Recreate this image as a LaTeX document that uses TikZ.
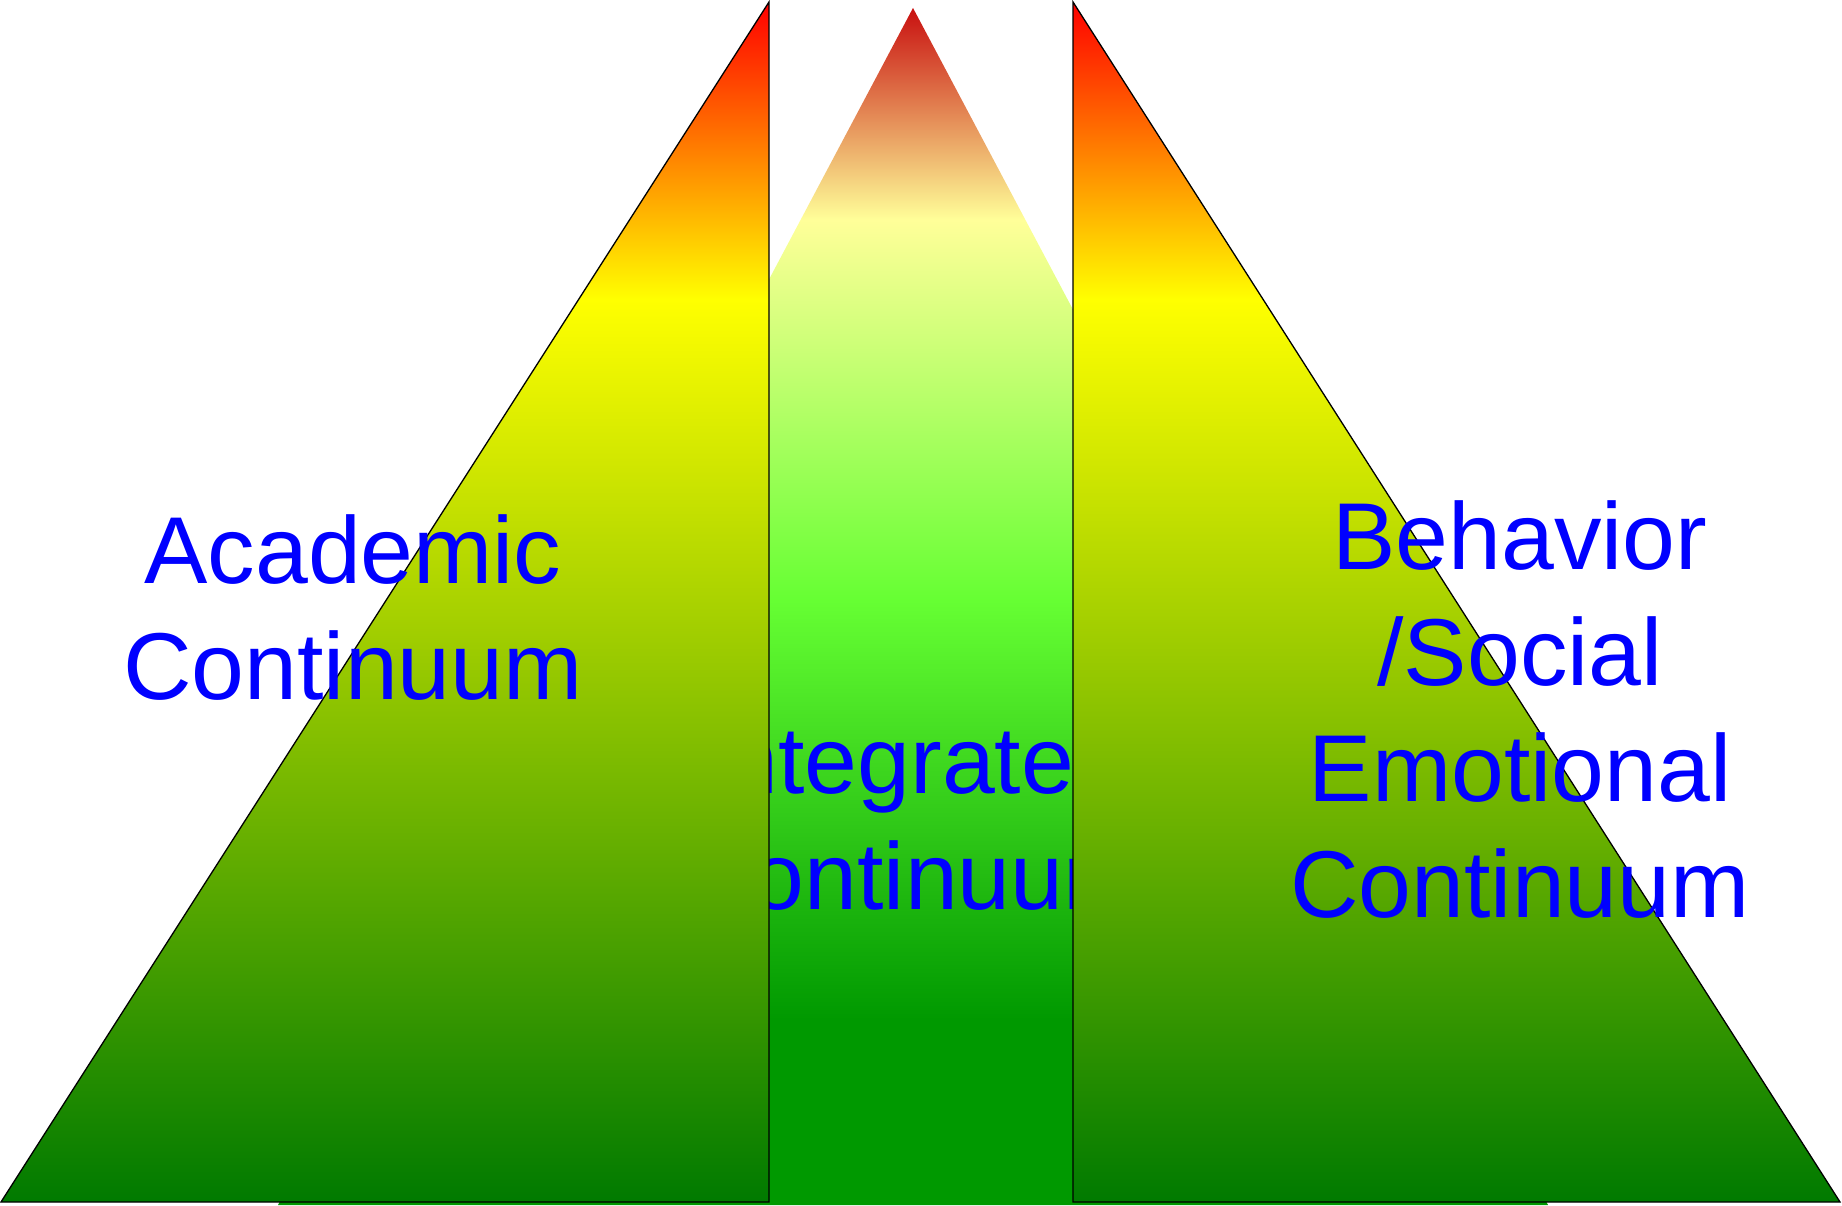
\documentclass[tikz,border=0pt]{standalone}
\usepackage{fontspec}
\setmainfont{Liberation Sans}
\definecolor{sidered}{RGB}{255,0,0}
\definecolor{sideyellow}{RGB}{255,255,0}
\definecolor{sidegreen}{RGB}{0,122,0}
\definecolor{middarkred}{RGB}{200,16,16}
\definecolor{midpale}{RGB}{255,255,153}
\definecolor{midbright}{RGB}{102,255,51}
\definecolor{midgreen}{RGB}{0,153,0}
\definecolor{lblblue}{RGB}{0,0,255}
\pgfdeclareverticalshading{sideshade}{100bp}{color(0bp)=(sidegreen); color(25bp)=(sidegreen); color(62.6bp)=(sideyellow); color(75bp)=(sidered); color(100bp)=(sidered)}
\pgfdeclareverticalshading{midshade}{100bp}{color(0bp)=(midgreen); color(25bp)=(midgreen); color(32.74bp)=(midgreen); color(50.26bp)=(midbright); color(66.14bp)=(midpale); color(75bp)=(middarkred); color(100bp)=(middarkred)}
\tikzset{
  sidetri/.style={shading=sideshade, draw=black, line width=1.3pt, line join=miter},
  midtri/.style={shading=midshade},
  lbl/.style={text=lblblue, align=center, inner sep=0pt, font=\fontsize{95}{116}\selectfont}
}
\begin{document}
\begin{tikzpicture}[x=1pt,y=1pt]
\useasboundingbox (0,0) rectangle (1842,1205);
% middle (background) triangle
\path[midtri] (278,0) -- (913,1197) -- (1548,0) -- cycle;
\node[lbl, anchor=north] (mid) at (913,481) {Integrated\\Continuum};
% side triangles
\path[sidetri] (1,3) -- (769,1203) -- (769,3) -- cycle;
\path[sidetri] (1073,1203) -- (1840,3) -- (1073,3) -- cycle;
% labels
\node[lbl, anchor=north] (acad) at (353,691) {Academic\\Continuum};
\node[lbl, anchor=north] (beh) at (1520,705) {Behavior\\/Social\\Emotional\\Continuum};
\end{tikzpicture}
\end{document}
